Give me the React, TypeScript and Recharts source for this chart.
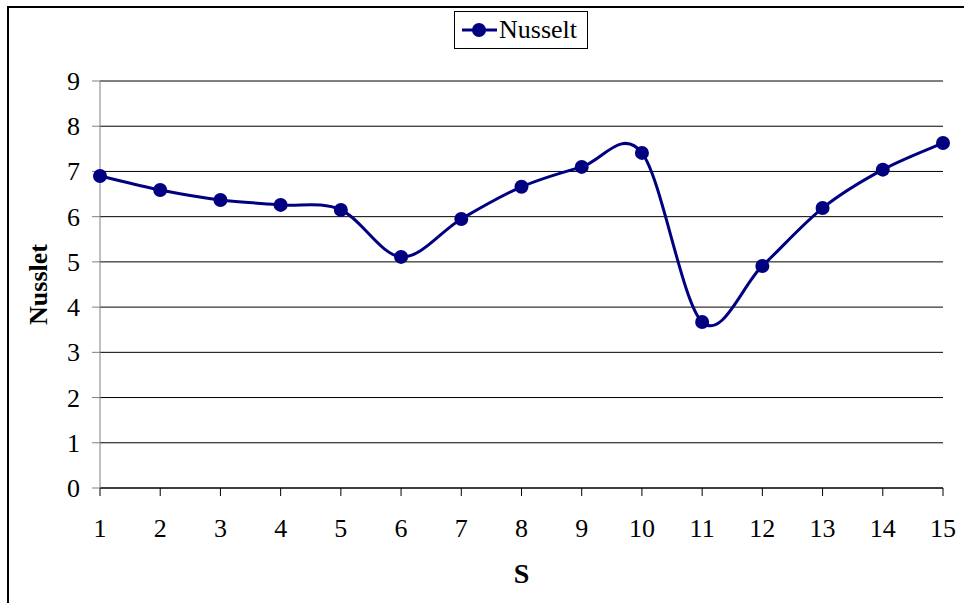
import React from "react";
import { LineChart, Line, XAxis, YAxis, CartesianGrid } from "recharts";

const sValues = [1, 2, 3, 4, 5, 6, 7, 8, 9, 10, 11, 12, 13, 14, 15];
const nusseltValues = [6.9, 6.59, 6.37, 6.26, 6.15, 5.11, 5.95, 6.66, 7.1, 7.41, 3.67, 4.91, 6.19, 7.04, 7.63];
const xTicks = [1, 2, 3, 4, 5, 6, 7, 8, 9, 10, 11, 12, 13, 14, 15];
const yTicks = [0, 1, 2, 3, 4, 5, 6, 7, 8, 9];
const seriesName = "Nusselt";
const xTitle = "S";
const yTitle = "Nusslet";

const data = sValues.map((s, i) => ({ s, nusselt: nusseltValues[i] }));

const FONT = "'Liberation Serif', 'Times New Roman', serif";
const NAVY = "#000080";

// Excel-like smoothing (Catmull-Rom style bezier)
function excelCurve(context: any) {
  let pts: number[][] = [];
  return {
    areaStart() {},
    areaEnd() {},
    lineStart() {
      pts = [];
    },
    point(x: number, y: number) {
      pts.push([+x, +y]);
    },
    lineEnd() {
      const n = pts.length;
      if (!n) return;
      context.moveTo(pts[0][0], pts[0][1]);
      for (let i = 0; i < n - 1; i++) {
        const p0 = pts[Math.max(0, i - 1)];
        const p1 = pts[i];
        const p2 = pts[i + 1];
        const p3 = pts[Math.min(n - 1, i + 2)];
        context.bezierCurveTo(
          p1[0] + (p2[0] - p0[0]) / 6,
          p1[1] + (p2[1] - p0[1]) / 6,
          p2[0] - (p3[0] - p1[0]) / 6,
          p2[1] - (p3[1] - p1[1]) / 6,
          p2[0],
          p2[1]
        );
      }
    },
  };
}

const XTick = (props: any) => {
  const { x, y, payload } = props;
  return (
    <text
      x={x}
      y={y + 19}
      textAnchor="middle"
      style={{ fontFamily: FONT, fontSize: 26, fill: "#000" }}
    >
      {payload.value}
    </text>
  );
};

const YTick = (props: any) => {
  const { x, y, payload } = props;
  return (
    <text
      x={x}
      y={y + 9}
      textAnchor="end"
      style={{ fontFamily: FONT, fontSize: 26, fill: "#000" }}
    >
      {payload.value}
    </text>
  );
};

const XTitle = (props: any) => {
  const vb = props.viewBox || {};
  const cx = vb.x + vb.width / 2;
  return (
    <text
      x={cx}
      y={583}
      textAnchor="middle"
      style={{ fontFamily: FONT, fontSize: 28, fontWeight: "bold", fill: "#000" }}
    >
      {xTitle}
    </text>
  );
};

const YTitle = (props: any) => {
  const vb = props.viewBox || {};
  const cy = vb.y + vb.height / 2;
  const x = 47;
  return (
    <text
      x={x}
      y={cy}
      textAnchor="middle"
      transform={`rotate(-90, ${x}, ${cy})`}
      style={{ fontFamily: FONT, fontSize: 26, fontWeight: "bold", fill: "#000" }}
    >
      {yTitle}
    </text>
  );
};

const LegendBox = () => (
  <div
    style={{
      position: "absolute",
      left: 454,
      top: 11,
      width: 134,
      height: 38,
      boxSizing: "border-box",
      border: "1px solid #000",
      background: "#fff",
      display: "flex",
      alignItems: "center",
      fontFamily: FONT,
      fontSize: 26,
      color: "#000",
    }}
  >
    <svg width={44} height={20} style={{ marginLeft: 6, flex: "none" }}>
      <line x1={1} y1={10} x2={36} y2={10} stroke={NAVY} strokeWidth={3} />
      <circle cx={18} cy={10} r={7} fill={NAVY} />
    </svg>
    <span style={{ marginLeft: -6, whiteSpace: "nowrap" }}>{seriesName}</span>
  </div>
);

export default function App() {
  return (
    <div
      style={{
        position: "absolute",
        left: 0,
        top: 0,
        width: 964,
        height: 603,
        background: "#fff",
        overflow: "hidden",
      }}
    >
      <div
        style={{
          position: "absolute",
          left: 7,
          top: 6,
          width: 964,
          height: 603,
          borderLeft: "2px solid #000",
          borderTop: "2px solid #000",
          boxSizing: "border-box",
        }}
      />
      <LineChart
        width={964}
        height={603}
        data={data}
        margin={{ top: 81, right: 21, left: 0, bottom: 0 }}
        style={{ position: "absolute", left: 0, top: 0 }}
      >
        <CartesianGrid vertical={false} stroke="#000" strokeWidth={1} />
        <XAxis
          dataKey="s"
          type="number"
          domain={[1, 15]}
          ticks={xTicks}
          interval={0}
          height={115}
          tickSize={8}
          tickMargin={22}
          axisLine={{ stroke: "#000", strokeWidth: 1 }}
          tickLine={{ stroke: "#000" }}
          tick={<XTick />}
          label={<XTitle />}
        />
        <YAxis
          type="number"
          domain={[0, 9]}
          ticks={yTicks}
          interval={0}
          width={100}
          tickSize={8}
          tickMargin={12}
          axisLine={{ stroke: "#808080", strokeWidth: 1 }}
          tickLine={{ stroke: "#808080" }}
          tick={<YTick />}
          label={<YTitle />}
        />
        <Line
          dataKey="nusselt"
          name={seriesName}
          type={excelCurve as any}
          stroke={NAVY}
          strokeWidth={3}
          dot={{ r: 7, fill: NAVY, stroke: NAVY, strokeWidth: 0 }}
          activeDot={false}
          isAnimationActive={false}
        />
      </LineChart>
      <LegendBox />
    </div>
  );
}
